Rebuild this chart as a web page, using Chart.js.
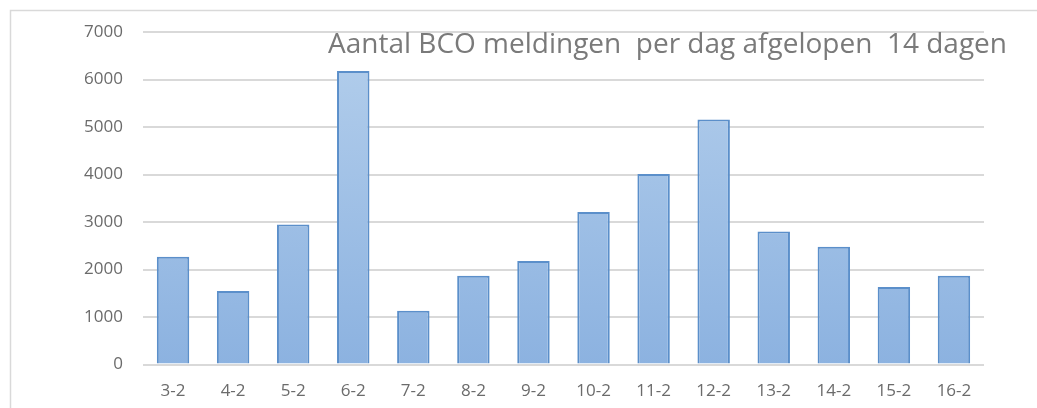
<!DOCTYPE html>
<html>
<head>
<meta charset="utf-8">
<script src="https://cdn.jsdelivr.net/npm/chart.js@4.4.1/dist/chart.umd.min.js"></script>
<style>
  html, body { margin: 0; padding: 0; background: #ffffff; overflow: hidden; }
  #wrap { position: relative; width: 1037px; height: 408px; }
</style>
</head>
<body>
<div id="wrap"><canvas id="c" width="1037" height="408"></canvas></div>
<script>
const chartTitle = "Aantal BCO meldingen  per dag afgelopen  14 dagen";
const categories = ["3-2","4-2","5-2","6-2","7-2","8-2","9-2","10-2","11-2","12-2","13-2","14-2","15-2","16-2"];
const meldingen = [2270, 1550, 2950, 6180, 1130, 1870, 2180, 3210, 4010, 5160, 2800, 2480, 1630, 1870];
const yTicks = [0, 1000, 2000, 3000, 4000, 5000, 6000, 7000];

const FONT = "'Open Sans', 'DejaVu Sans', sans-serif";

const framePlugin = {
  id: 'frame',
  beforeDraw(chart) {
    const ctx = chart.ctx;
    ctx.save();
    ctx.fillStyle = '#ffffff';
    ctx.fillRect(0, 0, chart.width, chart.height);
    ctx.strokeStyle = '#d9d9d9';
    ctx.lineWidth = 1.5;
    ctx.strokeRect(10.5, 10.5, chart.width + 20, chart.height + 20);
    ctx.restore();
  },
  afterDraw(chart) {
    const ctx = chart.ctx;
    ctx.save();
    ctx.font = "28px " + FONT;
    ctx.fillStyle = '#7a7a7a';
    ctx.textAlign = 'right';
    ctx.textBaseline = 'alphabetic';
    ctx.fillText(chartTitle, 1007, 53);
    ctx.restore();
  }
};

function barGradient(context) {
  const chart = context.chart;
  const area = chart.chartArea;
  if (!area) return '#a3c2e6';
  const g = chart.ctx.createLinearGradient(0, area.top, 0, area.bottom);
  g.addColorStop(0, '#b4cfec');
  g.addColorStop(1, '#8cb2e0');
  return g;
}

new Chart(document.getElementById('c'), {
  type: 'bar',
  data: {
    labels: categories,
    datasets: [{
      label: 'BCO meldingen',
      data: meldingen,
      backgroundColor: barGradient,
      borderColor: '#5b8fca',
      borderWidth: 2,
      borderSkipped: 'bottom',
      categoryPercentage: 1.0,
      barPercentage: 0.54
    }]
  },
  options: {
    responsive: false,
    animation: false,
    layout: { padding: { left: 0, right: 53, top: 32, bottom: 0 } },
    plugins: {
      legend: { display: false },
      title: { display: false },
      tooltip: { enabled: false }
    },
    scales: {
      x: {
        grid: { display: false, drawTicks: false },
        border: { display: false },
        ticks: { color: '#6b6b6b', font: { family: FONT, size: 17 }, padding: 16, maxRotation: 0 },
        afterFit(scale) { scale.height = 43.5; }
      },
      y: {
        min: 0,
        max: 7000,
        afterBuildTicks(scale) { scale.ticks = yTicks.map(v => ({ value: v })); },
        grid: { color: '#d9d9d9', lineWidth: 2, drawTicks: false },
        border: { display: false },
        ticks: {
          color: '#6b6b6b',
          font: { family: FONT, size: 17 },
          padding: 20,
          callback: (v) => String(v)
        },
        afterFit(scale) { scale.width = 143; }
      }
    }
  },
  plugins: [framePlugin]
});
</script>
</body>
</html>
